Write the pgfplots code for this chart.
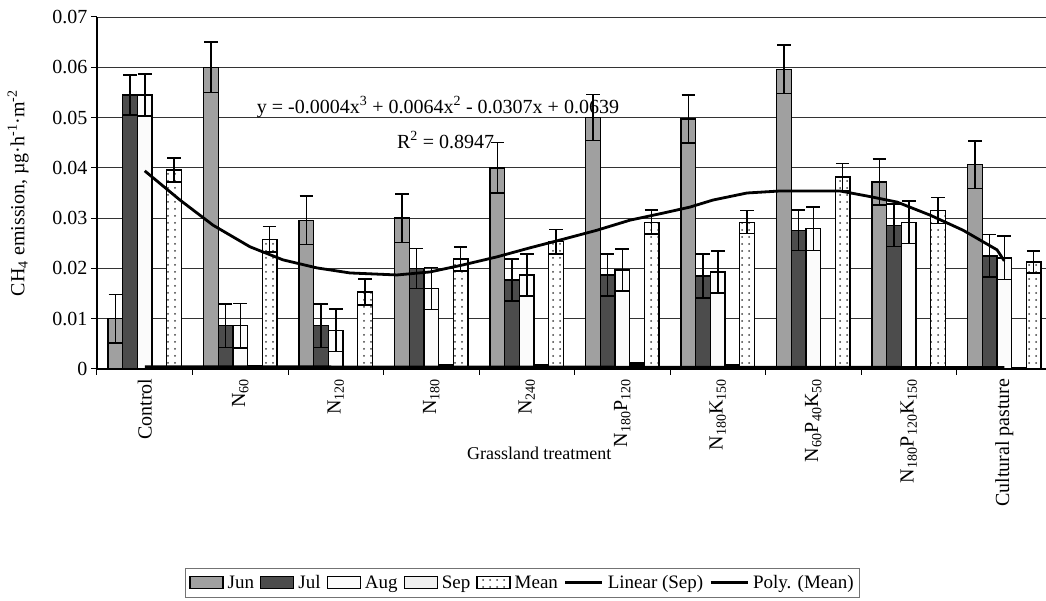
\documentclass[border=0pt]{standalone}
\usepackage{fontspec}
\setmainfont{Liberation Serif}
\usepackage{pgfplots}
\pgfplotsset{compat=1.18}
\usepackage{pgfplotstable}
\usetikzlibrary{patterns.meta}

\definecolor{junc}{HTML}{A0A0A0}
\definecolor{julc}{HTML}{4C4C4C}
\definecolor{augc}{HTML}{FBFBFB}
\definecolor{sepc}{HTML}{F0F0F0}

\pgfplotstableread{
x jun junE jul julE aug augE sep sepE mean meanE
0 0.0100 0.0048 0.0545 0.0040 0.0545 0.0042 0.0003 0.0002 0.0396 0.0024
1 0.0600 0.0050 0.0086 0.0043 0.0086 0.0044 0.0004 0.0002 0.0258 0.0025
2 0.0296 0.0048 0.0086 0.0043 0.0077 0.0042 0.0003 0.0002 0.0153 0.0026
3 0.0300 0.0048 0.0200 0.0040 0.0160 0.0042 0.0005 0.0003 0.0219 0.0024
4 0.0400 0.0050 0.0177 0.0042 0.0187 0.0042 0.0005 0.0003 0.0253 0.0024
5 0.0500 0.0046 0.0187 0.0042 0.0197 0.0042 0.0009 0.0003 0.0292 0.0024
6 0.0497 0.0048 0.0185 0.0044 0.0193 0.0042 0.0005 0.0003 0.0292 0.0023
7 0.0596 0.0048 0.0276 0.0040 0.0279 0.0043 0.0003 0.0002 0.0382 0.0027
8 0.0372 0.0046 0.0286 0.0042 0.0292 0.0042 0.0003 0.0002 0.0315 0.0026
9 0.0406 0.0047 0.0225 0.0042 0.0221 0.0043 0.0001 0.0001 0.0213 0.0022
}\data

\pgfplotsset{
  barleg/.style={legend image code/.code={\draw[##1,/tikz/.cd] (0pt,-6pt) rectangle (33pt,6pt);}},
  lineleg/.style={legend image code/.code={\draw[##1,/tikz/.cd] (0pt,0pt) -- (37pt,0pt);}},
  mybar/.style={ybar, bar width=14.7pt, bar shift=#1, draw=black, line width=1.3pt},
  myerr/.style={forget plot, draw=none, mark=none,
    error bars/y dir=both, error bars/y explicit,
    error bars/error mark=-,
    error bars/error bar style={draw=black, line width=1.5pt, solid},
    error bars/error mark options={rotate=90, draw=black, mark size=6.8pt, line width=1.5pt, solid}},
}

\begin{document}
\begin{tikzpicture}[font=\fontsize{20}{24}\selectfont]
\useasboundingbox (-97pt,-232pt) rectangle (949pt,369pt);
\begin{axis}[
  scale only axis,
  width=949pt, height=352pt,
  xmin=-0.5, xmax=9.437,
  ymin=0, ymax=0.07,
  axis lines=left,
  axis line style={-, line width=1.1pt, black},
  scaled y ticks=false,
  ytick={0,0.01,0.02,0.03,0.04,0.05,0.06,0.07},
  yticklabels={0,0.01,0.02,0.03,0.04,0.05,0.06,0.07},
  ymajorgrids,
  grid style={black!80, line width=0.9pt},
  xtick={0,1,2,3,4,5,6,7,8,9},
  xticklabels={Control, N\textsubscript{60}, N\textsubscript{120}, N\textsubscript{180}, N\textsubscript{240},
    N\textsubscript{180}P\textsubscript{120}, N\textsubscript{180}K\textsubscript{150},
    N\textsubscript{60}P\textsubscript{40}K\textsubscript{50},
    N\textsubscript{180}P\textsubscript{120}K\textsubscript{150}, Cultural pasture},
  minor xtick={-0.5,0.5,1.5,2.5,3.5,4.5,5.5,6.5,7.5,8.5},
  major x tick style={draw=none},
  tick align=outside,
  tick style={black, line width=1pt},
  major tick length=6pt, minor tick length=6pt,
  xticklabel style={rotate=90, anchor=east},
  xlabel={Grassland treatment},
  xlabel style={at={(axis description cs:0.466,-0.239)}, anchor=center, font=\fontsize{18}{22}\selectfont},
  ylabel={CH\textsubscript{4} emission, µg·h\textsuperscript{-1}·m\textsuperscript{-2}},
  ylabel style={at={(axis description cs:-0.083,0.5)}, anchor=center},
  legend columns=-1,
  legend style={at={(axis description cs:0.4484,-0.565)}, anchor=north,
    draw=black!55, line width=1.2pt, inner xsep=4pt, inner ysep=5pt,
    font=\fontsize{19}{23}\selectfont,
    /tikz/every odd column/.append style={column sep=2pt},
    /tikz/every even column/.append style={column sep=4pt}},
  clip=false,
]
\addplot[mybar=-29.4pt, fill=junc, barleg] table[x=x, y=jun]{\data};
\addlegendentry{Jun}
\addplot[mybar=-14.7pt, fill=julc, barleg] table[x=x, y=jul]{\data};
\addlegendentry{Jul}
\addplot[mybar=0pt, fill=augc, barleg] table[x=x, y=aug]{\data};
\addlegendentry{Aug}
\addplot[mybar=14.7pt, fill=sepc, barleg] table[x=x, y=sep]{\data};
\addlegendentry{Sep}
\addplot[mybar=29.4pt, fill=white, postaction={pattern={Dots[distance=7pt, radius=1pt]}, pattern color=black!75}, barleg] table[x=x, y=mean]{\data};
\addlegendentry{Mean}
\addplot[myerr] table[x expr=\thisrow{x}-0.30785, y=jun, y error=junE]{\data};
\addplot[myerr] table[x expr=\thisrow{x}-0.15393, y=jul, y error=julE]{\data};
\addplot[myerr] table[x expr=\thisrow{x}, y=aug, y error=augE]{\data};
\addplot[myerr] table[x expr=\thisrow{x}+0.15393, y=sep, y error=sepE]{\data};
\addplot[myerr] table[x expr=\thisrow{x}+0.30785, y=mean, y error=meanE]{\data};
\addplot[black, line width=2.8pt, lineleg] coordinates {(0,0.00045) (9,0.0003)};
\addlegendentry{Linear (Sep)}
\addplot[black, line width=2.8pt, lineleg] coordinates {
(0,0.0394) (0.369,0.0336) (0.715,0.0286) (1.102,0.0243) (1.448,0.0217) (1.804,0.0201)
(2.149,0.0191) (2.641,0.0187) (2.987,0.0193) (3.332,0.0207) (3.688,0.0223) (4.034,0.0241)
(4.380,0.0258) (4.736,0.0276) (5.081,0.0296) (5.427,0.0310) (5.709,0.0322) (5.950,0.0336)
(6.306,0.0350) (6.652,0.0354) (7.280,0.0354) (7.563,0.0344) (7.877,0.0332) (8.223,0.0306)
(8.568,0.0276) (8.924,0.0237) (9,0.0215)};
\addlegendentry{Poly. (Mean)}
\node[anchor=center] at (axis cs:3.07,0.0521) {y = -0.0004x\textsuperscript{3} + 0.0064x\textsuperscript{2} - 0.0307x + 0.0639};
\node[anchor=center] at (axis cs:3.15,0.0455) {R\textsuperscript{2} = 0.8947};
\end{axis}
\end{tikzpicture}
\end{document}
